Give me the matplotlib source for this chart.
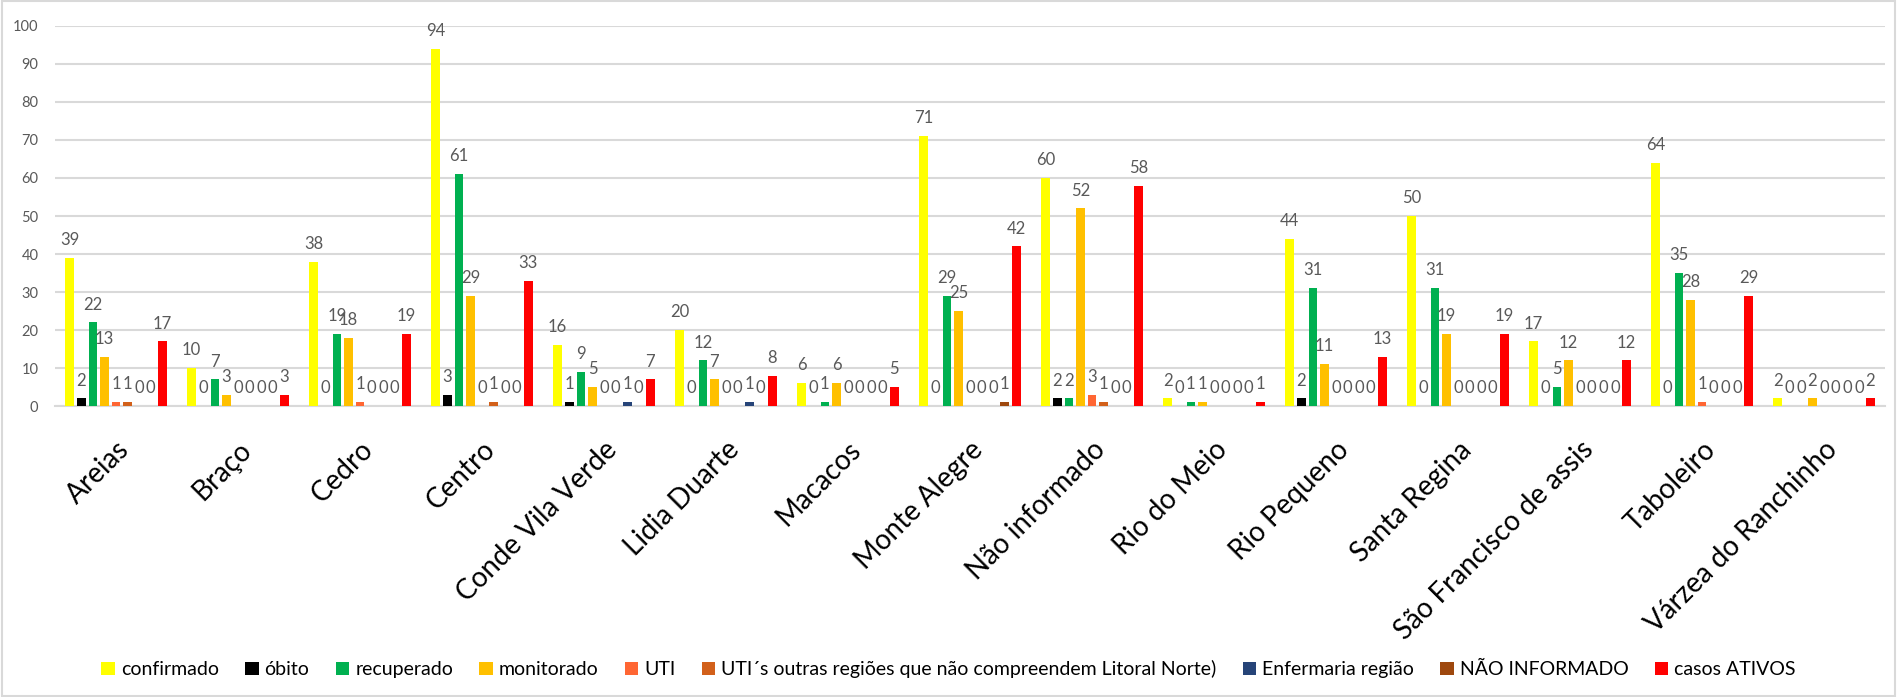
import matplotlib
matplotlib.use("Agg")
import matplotlib.pyplot as plt
import matplotlib.transforms as mtransforms
from matplotlib.patches import Rectangle
import numpy as np

plt.rcParams['font.family'] = ['Lato', 'DejaVu Sans']

bairros = ["Areias", "Braço", "Cedro", "Centro", "Conde Vila Verde", "Lidia Duarte",
           "Macacos", "Monte Alegre", "Não informado", "Rio do Meio", "Rio Pequeno",
           "Santa Regina", "São Francisco de assis", "Taboleiro", "Várzea do Ranchinho"]

confirmado = [39, 10, 38, 94, 16, 20, 6, 71, 60, 2, 44, 50, 17, 64, 2]
obito = [2, 0, 0, 3, 1, 0, 0, 0, 2, 0, 2, 0, 0, 0, 0]
recuperado = [22, 7, 19, 61, 9, 12, 1, 29, 2, 1, 31, 31, 5, 35, 0]
monitorado = [13, 3, 18, 29, 5, 7, 6, 25, 52, 1, 11, 19, 12, 28, 2]
uti = [1, 0, 1, 0, 0, 0, 0, 0, 3, 0, 0, 0, 0, 1, 0]
uti_outras = [1, 0, 0, 1, 0, 0, 0, 0, 1, 0, 0, 0, 0, 0, 0]
enfermaria = [0, 0, 0, 0, 1, 1, 0, 0, 0, 0, 0, 0, 0, 0, 0]
nao_informado = [0, 0, 0, 0, 0, 0, 0, 1, 0, 0, 0, 0, 0, 0, 0]
casos_ativos = [17, 3, 19, 33, 7, 8, 5, 42, 58, 1, 13, 19, 12, 29, 2]

series = [
    ("confirmado", confirmado, "#FFFF00"),
    ("óbito", obito, "#000000"),
    ("recuperado", recuperado, "#00B050"),
    ("monitorado", monitorado, "#FFC000"),
    ("UTI", uti, "#FF6633"),
    ("UTI´s outras regiões que não compreendem Litoral Norte)", uti_outras, "#D2601A"),
    ("Enfermaria região", enfermaria, "#264478"),
    ("NÃO INFORMADO", nao_informado, "#9E480E"),
    ("casos ATIVOS", casos_ativos, "#FF0000"),
]

fig = plt.figure(figsize=(18.97, 6.97), dpi=100)
ax = fig.add_axes([0.029, 0.4175, 0.9647, 0.5452])

x = np.arange(len(bairros))
n = len(series)
pitch = 0.095
width = 0.071
for i, (name, vals, color) in enumerate(series):
    pos = x + (i - (n - 1) / 2) * pitch
    bars = ax.bar(pos, vals, width, color=color, label=name, zorder=3)
    ax.bar_label(bars, labels=[str(v) for v in vals], padding=7,
                 fontsize=12, color="#595959")

ax.set_xlim(-0.5, len(bairros) - 0.5)
ax.set_ylim(0, 100)
ax.set_yticks(range(0, 101, 10))
ax.tick_params(axis='y', length=0, pad=12, labelsize=10.5, labelcolor="#595959")
ax.yaxis.grid(True, color="#D9D9D9", linewidth=1.5, zorder=0)
for s in ["top", "right", "left"]:
    ax.spines[s].set_visible(False)
ax.spines["bottom"].set_color("#D9D9D9")
ax.spines["bottom"].set_linewidth(1.5)

ax.set_xticks(x)
ax.set_xticklabels(bairros, rotation=45, ha='right', rotation_mode='anchor', fontsize=20)
ax.tick_params(axis='x', length=0, pad=22)
offset = mtransforms.ScaledTranslation(0.0, 0, fig.dpi_scale_trans)
for lbl in ax.get_xticklabels():
    lbl.set_transform(lbl.get_transform() + offset)

fig.legend(loc="center", bbox_to_anchor=(0.5, 0.04), ncol=n, frameon=False,
           fontsize=14, handlelength=0.7, handleheight=0.7, handletextpad=0.3,
           columnspacing=1.35)

fig.patches.append(Rectangle((0.001, 0.001), 0.998, 0.998, transform=fig.transFigure,
                             fill=False, edgecolor="#D9D9D9", linewidth=1.5))

fig.savefig("out.png", dpi=100)
